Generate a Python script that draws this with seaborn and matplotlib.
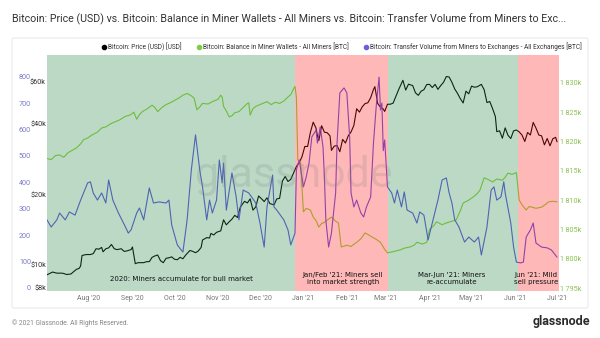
import numpy as np
import pandas as pd
import matplotlib
matplotlib.use("Agg")
import matplotlib.pyplot as plt
import matplotlib.dates as mdates
from matplotlib.lines import Line2D
from matplotlib.patches import FancyBboxPatch
import matplotlib.transforms as mtransforms
import seaborn as sns

# ---------------- data ----------------
price_dates = [
    "2020-07-02", "2020-07-06", "2020-07-09", "2020-07-13", "2020-07-16", "2020-07-19", "2020-07-21",
    "2020-07-23", "2020-07-25", "2020-07-26", "2020-07-27", "2020-07-30", "2020-08-02", "2020-08-04",
    "2020-08-06", "2020-08-08", "2020-08-10", "2020-08-11", "2020-08-13", "2020-08-15", "2020-08-17",
    "2020-08-19", "2020-08-21", "2020-08-24", "2020-08-26", "2020-08-28", "2020-08-31", "2020-09-01",
    "2020-09-03", "2020-09-05", "2020-09-07", "2020-09-09", "2020-09-11", "2020-09-13", "2020-09-15",
    "2020-09-17", "2020-09-19", "2020-09-21", "2020-09-23", "2020-09-25", "2020-09-27", "2020-09-29",
    "2020-10-01", "2020-10-03", "2020-10-05", "2020-10-07", "2020-10-09", "2020-10-12", "2020-10-14",
    "2020-10-16", "2020-10-18", "2020-10-20", "2020-10-21", "2020-10-24", "2020-10-26", "2020-10-27",
    "2020-10-29", "2020-10-31", "2020-11-03", "2020-11-05", "2020-11-07", "2020-11-09", "2020-11-11",
    "2020-11-13", "2020-11-15", "2020-11-17", "2020-11-20", "2020-11-22", "2020-11-24", "2020-11-26",
    "2020-11-28", "2020-11-30", "2020-12-02", "2020-12-04", "2020-12-06", "2020-12-08", "2020-12-11",
    "2020-12-13", "2020-12-15", "2020-12-17", "2020-12-19", "2020-12-21", "2020-12-23", "2020-12-25",
    "2020-12-27", "2020-12-29", "2020-12-31", "2021-01-02", "2021-01-04", "2021-01-06", "2021-01-08",
    "2021-01-10", "2021-01-11", "2021-01-12", "2021-01-14", "2021-01-16", "2021-01-18", "2021-01-20",
    "2021-01-21", "2021-01-23", "2021-01-25", "2021-01-27", "2021-01-29", "2021-01-31", "2021-02-02",
    "2021-02-04", "2021-02-06", "2021-02-08", "2021-02-10", "2021-02-12", "2021-02-14", "2021-02-16",
    "2021-02-18", "2021-02-20", "2021-02-21", "2021-02-23", "2021-02-25", "2021-02-27", "2021-02-28",
    "2021-03-02", "2021-03-04", "2021-03-06", "2021-03-08", "2021-03-10", "2021-03-13", "2021-03-15",
    "2021-03-17", "2021-03-20", "2021-03-22", "2021-03-24", "2021-03-26", "2021-03-28", "2021-03-30",
    "2021-04-01", "2021-04-03", "2021-04-05", "2021-04-07", "2021-04-09", "2021-04-11", "2021-04-13",
    "2021-04-15", "2021-04-17", "2021-04-19", "2021-04-21", "2021-04-23", "2021-04-25", "2021-04-27",
    "2021-04-29", "2021-05-01", "2021-05-03", "2021-05-05", "2021-05-08", "2021-05-10", "2021-05-12",
    "2021-05-14", "2021-05-16", "2021-05-18", "2021-05-19", "2021-05-21", "2021-05-23", "2021-05-25",
    "2021-05-27", "2021-05-29", "2021-05-31", "2021-06-02", "2021-06-04", "2021-06-06", "2021-06-08",
    "2021-06-10", "2021-06-12", "2021-06-14", "2021-06-16", "2021-06-18", "2021-06-20", "2021-06-22",
    "2021-06-24", "2021-06-26", "2021-06-28", "2021-06-30", "2021-07-01",
]
price_usd = [
    9100, 9350, 9250, 9250, 9130, 9170, 9380,
    9600, 9700, 9930, 11000, 11100, 11100, 11200,
    11750, 11700, 11900, 11400, 11750, 11850, 12250,
    11750, 11650, 11750, 11450, 11500, 11650, 11950,
    10150, 10250, 10250, 10250, 10350, 10350, 10800,
    10950, 11050, 10450, 10250, 10700, 10750, 10850,
    10600, 10550, 10800, 10650, 11050, 11550, 11450,
    11300, 11500, 11900, 12800, 13100, 13050, 13650,
    13450, 13800, 14000, 15600, 14850, 15300, 15700,
    16300, 15950, 17700, 18700, 18400, 19150, 17150,
    17700, 19700, 19200, 18650, 19350, 18300, 18050,
    19150, 19250, 22800, 23850, 22700, 23200, 24700,
    26300, 27350, 28950, 32000, 32000, 36800, 40600,
    38300, 35500, 33900, 39200, 36800, 36600, 35500,
    30800, 32100, 32300, 30400, 34300, 33100, 35500,
    36900, 39300, 46300, 44800, 47200, 48700, 49100,
    51600, 55900, 57500, 48800, 47000, 46200, 45100,
    48400, 48400, 48900, 52300, 55900, 61200, 55600,
    58900, 58100, 54100, 52800, 55000, 55800, 58700,
    58800, 57000, 58800, 56000, 58100, 60000, 63500,
    63200, 60000, 56200, 53800, 51100, 49000, 55000,
    53600, 57800, 57200, 57400, 58800, 55800, 49200,
    49700, 46400, 42900, 37000, 37300, 34700, 38400,
    35700, 34600, 37300, 37600, 36900, 35800, 33600,
    36700, 35800, 40500, 38300, 35800, 35500, 32500,
    34600, 32200, 34500, 35000, 33500,
]

balance_dates = [
    "2020-07-02", "2020-07-05", "2020-07-08", "2020-07-11", "2020-07-14", "2020-07-17", "2020-07-20",
    "2020-07-23", "2020-07-26", "2020-07-28", "2020-07-31", "2020-08-03", "2020-08-07", "2020-08-10",
    "2020-08-13", "2020-08-17", "2020-08-20", "2020-08-23", "2020-08-27", "2020-08-30", "2020-09-01",
    "2020-09-02", "2020-09-04", "2020-09-06", "2020-09-08", "2020-09-11", "2020-09-15", "2020-09-17",
    "2020-09-19", "2020-09-22", "2020-09-25", "2020-09-27", "2020-10-01", "2020-10-04", "2020-10-07",
    "2020-10-10", "2020-10-13", "2020-10-15", "2020-10-17", "2020-10-19", "2020-10-21", "2020-10-25",
    "2020-10-28", "2020-11-01", "2020-11-03", "2020-11-04", "2020-11-05", "2020-11-07", "2020-11-09",
    "2020-11-11", "2020-11-13", "2020-11-16", "2020-11-19", "2020-11-22", "2020-11-23", "2020-11-24",
    "2020-11-26", "2020-11-28", "2020-12-02", "2020-12-06", "2020-12-09", "2020-12-12", "2020-12-15",
    "2020-12-18", "2020-12-21", "2020-12-23", "2020-12-25", "2020-12-26", "2020-12-27", "2020-12-28",
    "2020-12-30", "2021-01-01", "2021-01-03", "2021-01-06", "2021-01-08", "2021-01-10", "2021-01-12",
    "2021-01-14", "2021-01-16", "2021-01-18", "2021-01-21", "2021-01-24", "2021-01-26", "2021-01-28",
    "2021-02-01", "2021-02-04", "2021-02-08", "2021-02-11", "2021-02-14", "2021-02-17", "2021-02-19",
    "2021-02-22", "2021-02-25", "2021-02-28", "2021-03-02", "2021-03-06", "2021-03-11", "2021-03-14",
    "2021-03-18", "2021-03-21", "2021-03-23", "2021-03-27", "2021-03-30", "2021-04-01", "2021-04-04",
    "2021-04-06", "2021-04-10", "2021-04-13", "2021-04-17", "2021-04-20", "2021-04-23", "2021-04-25",
    "2021-04-29", "2021-05-02", "2021-05-05", "2021-05-07", "2021-05-10", "2021-05-13", "2021-05-16",
    "2021-05-19", "2021-05-23", "2021-05-25", "2021-05-27", "2021-05-30", "2021-06-02", "2021-06-04",
    "2021-06-06", "2021-06-09", "2021-06-11", "2021-06-13", "2021-06-16", "2021-06-20", "2021-06-23",
    "2021-06-25", "2021-06-28", "2021-07-01",
]
balance_kbtc = [
    1817.1, 1816.9, 1817.6, 1817.7, 1817.3, 1818.1, 1818.5,
    1818.9, 1819.6, 1820.3, 1820.6, 1821.1, 1821.6, 1822.3,
    1822.5, 1823.1, 1823.4, 1823.7, 1824.3, 1824.5, 1824.8,
    1825.0, 1823.8, 1824.6, 1825.1, 1825.5, 1826.2, 1825.8,
    1825.1, 1825.8, 1826.3, 1826.5, 1827.0, 1827.4, 1827.9,
    1828.2, 1827.8, 1827.4, 1825.4, 1825.9, 1826.5, 1826.4,
    1826.8, 1827.2, 1827.9, 1827.6, 1826.0, 1825.2, 1824.2,
    1824.4, 1824.9, 1825.1, 1825.8, 1826.5, 1826.6, 1824.5,
    1825.6, 1826.0, 1826.4, 1826.8, 1826.3, 1826.7, 1826.5,
    1826.9, 1827.6, 1828.0, 1829.0, 1829.4, 1827.5, 1816.9,
    1816.5, 1808.0, 1808.6, 1808.3, 1807.1, 1806.5, 1805.4,
    1806.0, 1806.2, 1806.6, 1807.1, 1806.4, 1806.1, 1802.0,
    1802.3, 1802.1, 1802.8, 1803.4, 1804.4, 1804.0, 1803.7,
    1803.3, 1802.8, 1801.6, 1801.0, 1801.2, 1801.5, 1801.8,
    1802.0, 1802.3, 1802.8, 1802.5, 1802.8, 1805.0, 1805.6,
    1806.3, 1805.8, 1806.1, 1806.4, 1806.6, 1808.2, 1809.5,
    1810.0, 1810.5, 1811.1, 1811.7, 1813.8, 1813.5, 1813.1,
    1813.6, 1813.4, 1813.9, 1814.6, 1814.4, 1814.7, 1810.0,
    1809.2, 1808.3, 1808.9, 1808.8, 1808.6, 1808.8, 1809.3,
    1809.7, 1809.8, 1809.7,
]

transfer_dates = [
    "2020-07-02", "2020-07-05", "2020-07-09", "2020-07-11", "2020-07-15", "2020-07-18", "2020-07-22",
    "2020-07-26", "2020-07-31", "2020-08-02", "2020-08-04", "2020-08-07", "2020-08-10", "2020-08-13",
    "2020-08-15", "2020-08-18", "2020-08-22", "2020-08-27", "2020-08-29", "2020-08-31", "2020-09-04",
    "2020-09-06", "2020-09-09", "2020-09-13", "2020-09-16", "2020-09-20", "2020-09-25", "2020-09-27",
    "2020-09-29", "2020-10-03", "2020-10-07", "2020-10-10", "2020-10-13", "2020-10-16", "2020-10-19",
    "2020-10-21", "2020-10-24", "2020-10-26", "2020-10-28", "2020-10-31", "2020-11-02", "2020-11-04",
    "2020-11-05", "2020-11-07", "2020-11-11", "2020-11-14", "2020-11-16", "2020-11-19", "2020-11-23",
    "2020-11-28", "2020-12-01", "2020-12-04", "2020-12-06", "2020-12-10", "2020-12-11", "2020-12-13",
    "2020-12-18", "2020-12-21", "2020-12-23", "2020-12-26", "2020-12-27", "2020-12-29", "2021-01-01",
    "2021-01-03", "2021-01-05", "2021-01-07", "2021-01-10", "2021-01-11", "2021-01-13", "2021-01-15",
    "2021-01-16", "2021-01-17", "2021-01-19", "2021-01-21", "2021-01-24", "2021-01-25", "2021-01-27",
    "2021-01-30", "2021-02-01", "2021-02-03", "2021-02-04", "2021-02-06", "2021-02-08", "2021-02-11",
    "2021-02-13", "2021-02-15", "2021-02-18", "2021-02-20", "2021-02-22", "2021-02-24", "2021-02-25",
    "2021-02-26", "2021-02-27", "2021-02-28", "2021-03-02", "2021-03-05", "2021-03-07", "2021-03-09",
    "2021-03-12", "2021-03-14", "2021-03-16", "2021-03-20", "2021-03-23", "2021-03-25", "2021-03-28",
    "2021-03-31", "2021-04-03", "2021-04-07", "2021-04-10", "2021-04-13", "2021-04-15", "2021-04-17",
    "2021-04-19", "2021-04-22", "2021-04-26", "2021-04-29", "2021-05-03", "2021-05-06", "2021-05-08",
    "2021-05-12", "2021-05-15", "2021-05-17", "2021-05-19", "2021-05-22", "2021-05-24", "2021-05-25",
    "2021-05-29", "2021-05-31", "2021-06-02", "2021-06-05", "2021-06-07", "2021-06-09", "2021-06-12",
    "2021-06-14", "2021-06-16", "2021-06-20", "2021-06-24", "2021-06-27", "2021-07-01",
]
transfer_btc = [
    258, 231, 258, 284, 258, 288, 276,
    333, 398, 402, 360, 333, 360, 322,
    409, 333, 284, 231, 208, 220, 284,
    303, 258, 379, 322, 326, 322, 333,
    239, 163, 136, 258, 447, 580, 447,
    383, 258, 333, 284, 333, 485, 398,
    473, 295, 436, 345, 258, 371, 360,
    322, 246, 155, 307, 428, 307, 295,
    258, 220, 163, 208, 447, 485, 383,
    420, 473, 572, 598, 549, 610, 534,
    420, 258, 155, 208, 360, 549, 739,
    758, 739, 572, 360, 307, 333, 284,
    269, 307, 345, 549, 690, 799, 674,
    701, 520, 561, 383, 360, 322, 371,
    307, 364, 295, 284, 246, 288, 276,
    182, 246, 333, 409, 417, 360, 322,
    258, 231, 174, 193, 174, 193, 125,
    231, 371, 383, 333, 345, 402, 360,
    246, 155, 98, 95, 98, 193, 220,
    246, 170, 155, 152, 144, 117,
]

period_bounds = ["2020-07-01", "2020-12-26", "2021-03-02T10:00", "2021-06-03", "2021-07-03"]
period_kinds = ["accumulate", "sell", "accumulate", "sell"]
period_texts = [
    "2020: Miners accumulate for bull market",
    "Jan/Feb '21: Miners sell\ninto market strength",
    "Mar-Jun '21: Miners\nre-accumulate",
    "Jun '21: Mild\nsell pressure",
]
period_text_dates = ["2020-10-06", "2021-01-29", "2021-04-17", "2021-06-16"]

x_tick_dates = ["2020-08-01", "2020-09-01", "2020-10-01", "2020-11-01", "2020-12-01", "2021-01-01",
                "2021-02-01", "2021-03-01", "2021-04-01", "2021-05-01", "2021-06-01", "2021-07-01"]
x_tick_labels = ["Aug '20", "Sep '20", "Oct '20", "Nov '20", "Dec '20", "Jan '21",
                 "Feb '21", "Mar '21", "Apr '21", "May '21", "Jun '21", "Jul '21"]
price_ticks = [8000, 10000, 20000, 40000, 60000]
price_tick_labels = ["$8k", "$10k", "$20k", "$40k", "$60k"]
transfer_ticks = [0, 100, 200, 300, 400, 500, 600, 700, 800]
balance_ticks = [1795, 1800, 1805, 1810, 1815, 1820, 1825, 1830]

series_names = ["Bitcoin: Price (USD) [USD]",
                "Bitcoin: Balance in Miner Wallets - All Miners [BTC]",
                "Bitcoin: Transfer Volume from Miners to Exchanges - All Exchanges [BTC]"]
title = ("Bitcoin: Price (USD) vs. Bitcoin: Balance in Miner Wallets - All Miners vs. "
         "Bitcoin: Transfer Volume from Miners to Exc...")

# ---------------- styling ----------------
sns.set_style("white")
plt.rcParams["font.family"] = ["Roboto", "DejaVu Sans"]

C_PRICE = "#000000"
C_BAL = "#8fd73a"
C_TRF = "#6456e5"
LEG_COLORS = ["#000000", "#7ccf45", "#6a5fe0"]
SHADE = {"accumulate": ("#208441", 0.30), "sell": ("#ff1616", 0.30)}

W, H = 600, 338
fig = plt.figure(figsize=(W / 100, H / 100), dpi=100)
fig.patch.set_facecolor("white")

L, R, T, B = 47, 559, 55, 291
ax = fig.add_axes([L / W, 1 - B / H, (R - L) / W, (B - T) / H])
ax_g = ax.twinx()
ax_b = ax.twinx()

pdates = pd.to_datetime(price_dates)
bdates = pd.to_datetime(balance_dates)
tdates = pd.to_datetime(transfer_dates)

sns.lineplot(x=pdates, y=price_usd, ax=ax, color=C_PRICE, linewidth=0.8)
sns.lineplot(x=bdates, y=balance_kbtc, ax=ax_g, color=C_BAL, linewidth=0.8)
sns.lineplot(x=tdates, y=transfer_btc, ax=ax_b, color=C_TRF, linewidth=0.8)

xlim = (pd.Timestamp("2020-07-02"), pd.Timestamp("2021-07-02 10:00"))
for a in (ax, ax_g, ax_b):
    a.set_xlim(*xlim)
    a.set_xlabel("")
    a.set_ylabel("")
    for s in a.spines.values():
        s.set_visible(False)
    a.grid(False)

ax.set_yscale("log")
ax.set_ylim(7766, 78400)
ax.yaxis.set_major_locator(matplotlib.ticker.FixedLocator(price_ticks))
ax.yaxis.set_minor_locator(matplotlib.ticker.NullLocator())
ax.set_yticklabels(price_tick_labels)
ax.tick_params(axis="y", length=0, pad=0.8, labelsize=5.2, labelcolor="#333333")

ax_g.set_ylim(1794.49, 1834.76)
ax_g.set_yticks(balance_ticks)
ax_g.set_yticklabels([f"1\u2009{v - 1000}k" for v in balance_ticks])
ax_g.tick_params(axis="y", length=0, pad=0.8, labelsize=5.2, labelcolor="#8cc152")

ax_b.set_ylim(-11.4, 882.6)
ax_b.set_yticks(transfer_ticks)
ax_b.set_yticklabels([str(v) for v in transfer_ticks])
ax_b.yaxis.set_ticks_position("left")
ax_b.tick_params(axis="y", length=0, pad=11.5, labelsize=5.2, labelcolor="#7b7bc8")

ax.set_xticks(pd.to_datetime(x_tick_dates))
ax.set_xticklabels(x_tick_labels)
ax.tick_params(axis="x", length=0, pad=3, labelsize=5.0, labelcolor="#777777")
ax_g.tick_params(axis="x", bottom=False, labelbottom=False)
ax_b.tick_params(axis="x", bottom=False, labelbottom=False)

# shaded periods drawn on top of all lines
pb = pd.to_datetime(period_bounds, format="ISO8601")
for i, kind in enumerate(period_kinds):
    col, al = SHADE[kind]
    ax_b.axvspan(pb[i], pb[i + 1], color=col, alpha=al, lw=0, zorder=5)

trans = mtransforms.blended_transform_factory(ax_b.transData, ax_b.transAxes)
for txt, d in zip(period_texts, pd.to_datetime(period_text_dates)):
    ax_b.text(d, 0.052, txt, transform=trans, ha="center", va="center", fontsize=5.05,
              family="DejaVu Sans", color="#111111", linespacing=1.3, zorder=7)

# watermark
ax_b.text(0.482, 0.44, "glassnode", transform=ax_b.transAxes, ha="center", va="baseline",
          fontsize=31, color="#808080", alpha=0.2, zorder=6)

# legend (manual, above plot)
leg_marker_x = [104, 199, 366]
leg_y = 47
for name, c, mx in zip(series_names, LEG_COLORS, leg_marker_x):
    fig.add_artist(Line2D([mx / W], [1 - leg_y / H], marker="o", markersize=3.0, color=c,
                          linestyle="none", transform=fig.transFigure))
    fig.text((mx + 4) / W, 1 - leg_y / H, name, ha="left", va="center", fontsize=4.7,
             color="#333333")

# title & footer
fig.text(12 / W, 1 - 19 / H, title, ha="left", va="center", fontsize=7.7, color="#333333")
fig.text(12 / W, 1 - 323 / H, "\u00a9 2021 Glassnode. All Rights Reserved.", ha="left", va="center",
         fontsize=4.8, color="#888888")
fig.text(590 / W, 1 - 322 / H, "glassnode", ha="right", va="center", fontsize=9,
         weight="bold", color="#2b2b2b")

# panel border
panel = FancyBboxPatch((12 / W, 1 - 308 / H), 576 / W, 270 / H,
                       boxstyle="round,pad=0,rounding_size=0.004",
                       transform=fig.transFigure, facecolor="none",
                       edgecolor="#e8e8e8", linewidth=0.7)
fig.patches.append(panel)

fig.savefig("out.png", dpi=100)
